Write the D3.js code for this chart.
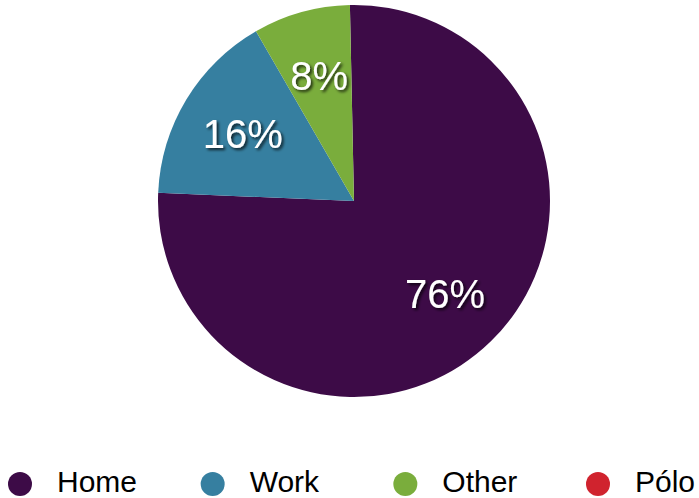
<!DOCTYPE html>
<html>
<head>
<meta charset="utf-8">
<script src="https://cdn.jsdelivr.net/npm/d3@7"></script>
<style>
  html, body { margin: 0; padding: 0; background: #fff; }
  svg { display: block; }
</style>
</head>
<body>
<svg id="chart" width="699" height="498"></svg>
<script>
const categories = ["Home", "Work", "Other", "Pólo"];
const values = [76, 16, 8, 0];
const colors = ["#3d0b47", "#367fa0", "#7aad3c", "#d0232e"];

const svg = d3.select("#chart");
const cx = 354, cy = 201, R = 196;

const defs = svg.append("defs");
const f = defs.append("filter").attr("id", "shadow")
  .attr("x", "-20%").attr("y", "-20%").attr("width", "150%").attr("height", "150%");
f.append("feDropShadow").attr("dx", 2).attr("dy", 2).attr("stdDeviation", 1.6)
  .attr("flood-color", "#000").attr("flood-opacity", 0.75);

const data = categories.map((c, i) => ({ cat: c, value: values[i], color: colors[i] }));
const offset = -1.2 * Math.PI / 180;
const pie = d3.pie().value(d => d.value).sort(null)
  .startAngle(offset).endAngle(2 * Math.PI + offset);
const arcs = pie(data);
const arc = d3.arc().innerRadius(0).outerRadius(R);
const labelArc = d3.arc().innerRadius(130).outerRadius(130);

const g = svg.append("g").attr("transform", `translate(${cx},${cy})`);
g.selectAll("path").data(arcs.filter(a => a.data.value > 0)).join("path")
  .attr("d", arc).attr("fill", d => d.data.color);

g.selectAll("text").data(arcs.filter(a => a.data.value > 0)).join("text")
  .attr("transform", d => `translate(${labelArc.centroid(d)})`)
  .attr("text-anchor", "middle").attr("dy", "0.36em")
  .attr("font-family", "'Liberation Sans', Arial, Helvetica, sans-serif")
  .attr("font-size", 40).attr("fill", "#fff")
  .attr("filter", "url(#shadow)")
  .text(d => d.data.value + "%");

// legend
const legendX = d3.scalePoint().domain(categories).range([20, 598]);
const lg = svg.append("g");
const items = lg.selectAll("g").data(data).join("g")
  .attr("transform", d => `translate(${legendX(d.cat)},484)`);
items.append("circle").attr("r", 12).attr("fill", d => d.color);
items.append("text").attr("x", 37).attr("y", 8)
  .attr("font-family", "'Liberation Sans', Arial, Helvetica, sans-serif")
  .attr("font-size", 30).attr("fill", "#000")
  .text(d => d.cat);
</script>
</body>
</html>
